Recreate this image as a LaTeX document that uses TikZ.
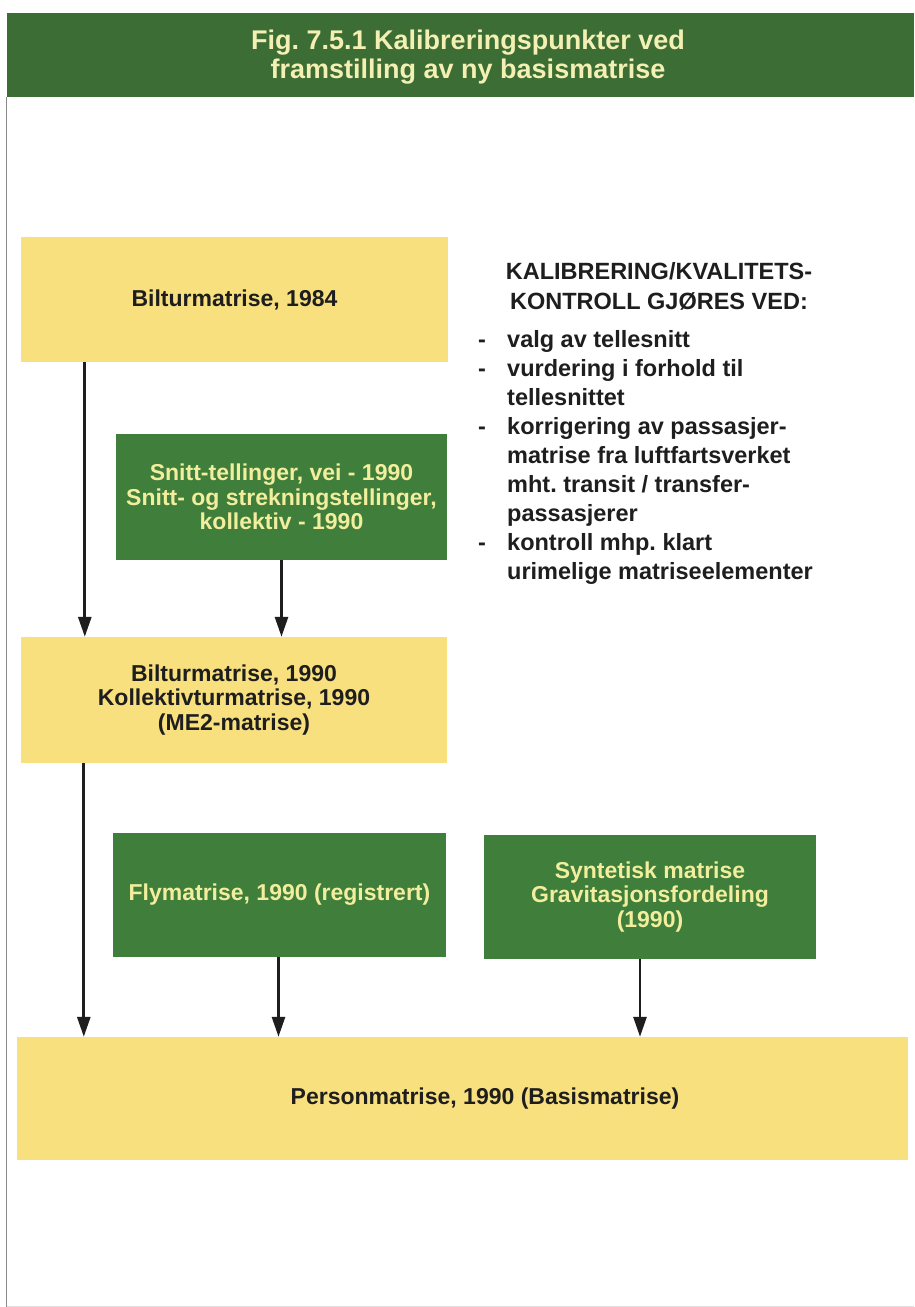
\documentclass[tikz,border=0pt]{standalone}
\usepackage{fontspec}
\setmainfont{Liberation Sans}
\usetikzlibrary{arrows.meta}
\definecolor{hdrgreen}{HTML}{3B6D35}
\definecolor{boxgreen}{HTML}{3F7E3B}
\definecolor{boxyellow}{HTML}{F8E07E}
\definecolor{paletext}{HTML}{F2EE9E}
\definecolor{titletext}{HTML}{F4F0B4}
\definecolor{inkdark}{HTML}{1E1E1E}
\definecolor{framegray}{HTML}{8A8A8A}
\frenchspacing
\begin{document}
\begin{tikzpicture}[x=1pt,y=-1pt,
  boxbase/.style={draw=none, inner sep=0pt, align=center,
    font=\bfseries\fontsize{23}{24.5}\selectfont},
  ybox/.style={boxbase, fill=boxyellow, text=inkdark},
  gbox/.style={boxbase, fill=boxgreen, text=paletext},
  arr/.style={-{Triangle[width=13pt,length=20pt]}, line width=2.8pt, draw=inkdark},
  sidetext/.style={inner sep=0pt, text=inkdark}]
\useasboundingbox (0,0) rectangle (914,1307);
\fill[white] (0,0) rectangle (914,1307);
% frame line
\draw[framegray, line width=1.5pt] (6.5,97) -- (6.5,1307);
\draw[black!12, line width=1pt] (6.5,1306) -- (914,1306);
% header
\node[fill=hdrgreen, inner sep=0pt, minimum width=907pt, minimum height=84pt] (hdr) at (460.5,55) {};
\node[inner sep=0pt, text=titletext, align=center, font=\bfseries\fontsize{27}{28.5}\selectfont]
  (title) at (468,57) {Fig. 7.5.1 Kalibreringspunkter ved\\framstilling av ny basismatrise};
% boxes
\node[ybox, minimum width=427pt, minimum height=125pt] (y1) at (234.5,299.5) {Bilturmatrise, 1984};
\node[gbox, minimum width=331pt, minimum height=126pt] (g2) at (281.5,497) {Snitt-tellinger, vei - 1990\\Snitt- og strekningstellinger,\\kollektiv - 1990};
\node[ybox, minimum width=426pt, minimum height=126pt] (y3) at (234,700) {Bilturmatrise, 1990\\Kollektivturmatrise, 1990\\(ME2-matrise)};
\node[gbox, minimum width=333pt, minimum height=124pt] (g4) at (279.5,895) {Flymatrise, 1990 (registrert)};
\node[gbox, minimum width=332pt, minimum height=124pt] (g5) at (650,897) {Syntetisk matrise\\Gravitasjonsfordeling\\(1990)};
\node[ybox, minimum width=891pt, minimum height=123pt] (y6) at (462.5,1098.5) {\hspace*{45pt}Personmatrise, 1990 (Basismatrise)};
% side text
\node[sidetext, anchor=north, align=center, font=\bfseries\fontsize{23.5}{30}\selectfont]
  (head) at (659,262) {KALIBRERING/KVALITETS-\\KONTROLL GJØRES VED:};
\node[sidetext, anchor=north west, align=left, font=\bfseries\fontsize{23.5}{29}\selectfont]
  (list) at (478,330) {\makebox[29pt][l]{-}valg av tellesnitt\\
\makebox[29pt][l]{-}vurdering i forhold til\\
\hspace*{29pt}tellesnittet\\
\makebox[29pt][l]{-}korrigering av passasjer-\\
\hspace*{29pt}matrise fra luftfartsverket\\
\hspace*{29pt}mht. transit / transfer-\\
\hspace*{29pt}passasjerer\\
\makebox[29pt][l]{-}kontroll mhp. klart\\
\hspace*{29pt}urimelige matriseelementer};
% connectors
\draw[arr] ([xshift=64pt]y1.south west) -- ([xshift=64pt]y1.south west |- y3.north);
\draw[arr] (g2.south) -- (g2.south |- y3.north);
\draw[arr] ([xshift=63pt]y3.south west) -- ([xshift=63pt]y3.south west |- y6.north);
\draw[arr] ([xshift=-1pt]g4.south) -- ([xshift=-1pt]g4.south |- y6.north);
\draw[arr] ([xshift=-10pt]g5.south) -- ([xshift=-10pt]g5.south |- y6.north);
\end{tikzpicture}
\end{document}
